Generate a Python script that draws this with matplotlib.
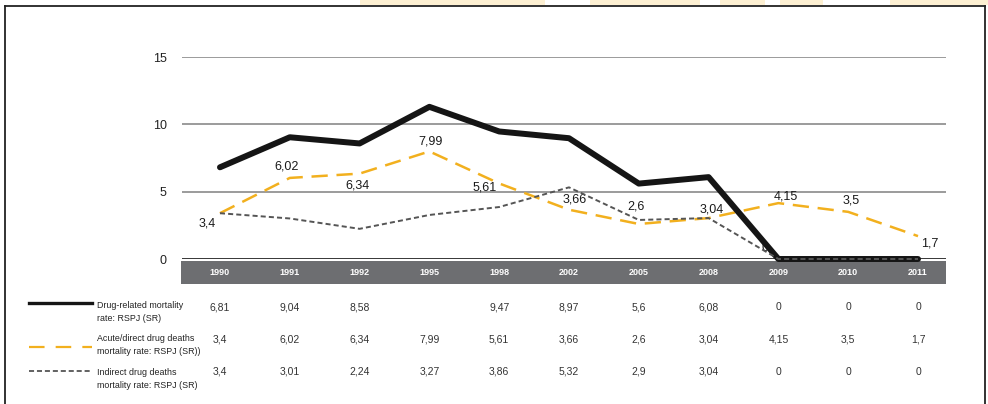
import matplotlib
matplotlib.use("Agg")
import numpy as np
import matplotlib.pyplot as plt
from matplotlib import font_manager
from matplotlib.lines import Line2D
from matplotlib.patches import Rectangle

# Données (taux pour 100 000 habitants)
years = ["1990", "1991", "1992", "1995", "1998", "2002", "2005", "2008", "2009", "2010", "2011"]
drug_related = [6.81, 9.04, 8.58, 11.3, 9.47, 8.97, 5.6, 6.08, 0, 0, 0]
acute_direct = [3.4, 6.02, 6.34, 7.99, 5.61, 3.66, 2.6, 3.04, 4.15, 3.5, 1.7]
indirect = [3.4, 3.01, 2.24, 3.27, 3.86, 5.32, 2.9, 3.04, 0, 0, 0]
# valeur absente du tableau pour la première série
drug_related_blank = ["1995"]

series_names = [
    "Drug-related mortality\nrate: RSPJ (SR)",
    "Acute/direct drug deaths\nmortality rate: RSPJ (SR))",
    "Indirect drug deaths\nmortality rate: RSPJ (SR)",
]

# décalages des étiquettes de la série orange (pixels)
acute_offsets = [(-13, -10), (-3, 11), (-2, -11.5), (1, 10), (-15, -4), (6, 10),
                 (-3, 17), (3, 9), (7, 7), (3, 11), (12, -7)]

names = {f.name for f in font_manager.fontManager.ttflist}
narrow = "Liberation Sans Narrow" if "Liberation Sans Narrow" in names else "Liberation Sans"
plt.rcParams["font.family"] = ["Liberation Sans", "DejaVu Sans"]

W, H = 988, 404
def fx(px):
    return px / W
def fy(py):
    return 1 - py / H

ORANGE = "#F2B01E"
GREY = "#555555"
BLACK = "#151515"

fig = plt.figure(figsize=(W / 100, H / 100), dpi=100)

# cadre et bandeau pâle en haut
for x0, x1 in [(360, 545), (590, 700), (720, 765), (780, 823), (890, 988)]:
    fig.add_artist(Rectangle((fx(x0), fy(5)), fx(x1) - fx(x0), fy(0) - fy(5),
                             transform=fig.transFigure, color="#fdf0d2", lw=0))
fig.add_artist(Line2D([fx(5), fx(985)], [fy(6), fy(6)], color="#222222", lw=1.3))
fig.add_artist(Line2D([fx(5), fx(5)], [fy(6), 0], color="#222222", lw=1.3))
fig.add_artist(Line2D([fx(985), fx(985)], [fy(6), 0], color="#222222", lw=1.3))

# bande grise des années (sous les axes)
fig.add_artist(Rectangle((fx(181), fy(284)), fx(946) - fx(181), fy(261) - fy(284),
                         transform=fig.transFigure, color="#6d6e71", lw=0, zorder=1))

ax = fig.add_axes([fx(182), fy(259), fx(946) - fx(182), fy(57) - fy(259)])
ax.set_zorder(2)
ax.patch.set_alpha(0)
ax.set_xlim(-0.544, 10.401)
ax.set_ylim(0, 15)
for s in ax.spines.values():
    s.set_visible(False)
ax.set_xticks([])
ax.set_yticks([0, 5, 10, 15])
ax.tick_params(axis="y", length=0, pad=11, labelsize=9, labelcolor="#222222")

for y in [5, 10, 15]:
    ax.axhline(y, color="#808080", lw=1.1, zorder=1)
ax.axhline(0, color=BLACK, lw=1.2, zorder=1)

x = np.arange(len(years))
ax.plot(x, acute_direct, color=ORANGE, lw=1.8, dashes=(6.5, 3.5), zorder=3, clip_on=False)
ax.plot(x, drug_related, color=BLACK, lw=4.3, solid_capstyle="round",
        solid_joinstyle="round", zorder=4, clip_on=False)
ax.plot(x, indirect, color=GREY, lw=1.4, dashes=(2.6, 1.6), zorder=5, clip_on=False)

def fmt(v):
    return f"{v:g}".replace(".", ",")

for i, v in enumerate(acute_direct):
    dx, dy = acute_offsets[i]
    ax.annotate(fmt(v), (i, v), xytext=(dx * 0.72, dy * 0.72), textcoords="offset points",
                ha="center", va="center", fontsize=9, color="#1a1a1a", zorder=2)
# étiquette de la série grise en 2009, en partie cachée par la ligne noire
ax.annotate(fmt(indirect[8]), (8, indirect[8]), xytext=(-13 * 0.72, 11 * 0.72),
            textcoords="offset points", ha="center", va="center", fontsize=9,
            color="#1a1a1a", zorder=2)

tr = ax.get_xaxis_transform()
px_to_ax = 1 / (259 - 57)
for i, yr in enumerate(years):
    ax.text(i, -(272.5 - 259) * px_to_ax, yr, transform=tr, ha="center", va="center",
            fontsize=6.5, fontweight="bold", color="white", family=narrow, clip_on=False)

# tableau des valeurs
rows = [drug_related, acute_direct, indirect]
row_y = [307, 340, 372]
for r, vals in enumerate(rows):
    for i, v in enumerate(vals):
        if r == 0 and years[i] in drug_related_blank:
            continue
        ax.text(i, -(row_y[r] - 259) * px_to_ax, fmt(v), transform=tr, ha="center",
                va="center", fontsize=7.5, color="#333333", family=narrow, clip_on=False)

# légende
fig.add_artist(Line2D([fx(29), fx(92)], [fy(303), fy(303)], color=BLACK, lw=2.4))
fig.add_artist(Line2D([fx(29), fx(92)], [fy(347), fy(347)], color=ORANGE, lw=1.6,
                      dashes=(7, 5)))
fig.add_artist(Line2D([fx(29), fx(92)], [fy(371), fy(371)], color=GREY, lw=1.3,
                      dashes=(2.8, 1.6)))
for name, yc in zip(series_names, [312, 345, 379]):
    fig.text(fx(97), fy(yc), name, ha="left", va="center", fontsize=6.4,
             color="#222222", family=narrow, linespacing=1.6)

fig.savefig("out.png", dpi=100)
